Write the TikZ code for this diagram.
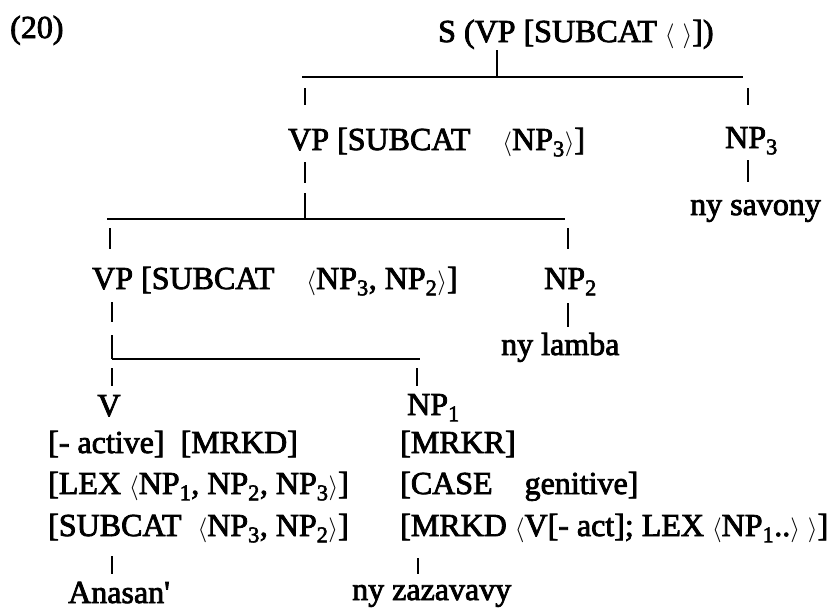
\documentclass[tikz,border=0pt]{standalone}
\usepackage{fontspec}
\setmainfont[FakeBold=2.5]{Liberation Serif}
\newcommand{\la}{$\langle$}
\newcommand{\ra}{$\rangle$}
\newcommand{\sub}[1]{\textsubscript{#1}}
\begin{document}
\begin{tikzpicture}[x=1pt,y=-1pt,
  lbl/.style={inner sep=0pt, anchor=base west, font=\fontsize{32}{40}\selectfont},
  bar/.style={line width=2.8pt},
  tick/.style={line width=2.4pt}]
\useasboundingbox (0,0) rectangle (838,611);
\fill[white] (0,0) rectangle (838,611);
% labels
\node[lbl] (ex) at (10,38) {(20)};
\node[lbl] (S) at (438,42) {S (VP [SUBCAT \la\ \ra])};
\node[lbl] (VPa) at (288,150) {VP [SUBCAT\quad\la NP\sub{3}\ra]};
\node[lbl] (NPc) at (725,148) {NP\sub{3}};
\node[lbl] (sav) at (690,215) {ny savony};
\node[lbl] (VPb) at (92,289) {VP [SUBCAT\quad\la NP\sub{3}, NP\sub{2}\ra]};
\node[lbl] (NPb) at (544,289) {NP\sub{2}};
\node[lbl] (lam) at (501,355) {ny lamba};
\node[lbl, anchor=base] (V) at (109,416) {V};
\node[lbl] (NPa) at (407,415) {NP\sub{1}};
\node[lbl] (v1) at (48,453) {[- active]\enspace [MRKD]};
\node[lbl] (v2) at (48,494) {[LEX \la NP\sub{1}, NP\sub{2}, NP\sub{3}\ra]};
\node[lbl] (v3) at (48,536) {[SUBCAT\enspace\la NP\sub{3}, NP\sub{2}\ra]};
\node[lbl] (n1) at (400,453) {[MRKR]};
\node[lbl] (n2) at (400,494) {[CASE\quad genitive]};
\node[lbl] (n3) at (400,536) {[MRKD \la V[- act]; LEX \la NP\sub{1}..\ra\ \ra]};
\node[lbl] (ana) at (68,603) {Anasan\textquotesingle};
\node[lbl] (zaz) at (352,600) {ny zazavavy};
% branch points
\coordinate (b1) at (497,77);
\coordinate (b1l) at (302,77);
\coordinate (b1r) at (743,77);
\coordinate (b2) at (305,219);
\coordinate (b2l) at (107,219);
\coordinate (b2r) at (565,219);
\coordinate (b3) at (112,359);
\coordinate (b3r) at (420,359);
% top level
\draw[tick] (497,50) -- (b1);
\draw[bar] (b1l) -- (b1r);
\draw[tick] (305,88) -- (305,105);
\draw[tick] (748,88) -- (748,105);
% second level
\draw[tick] (305,162) -- (305,183);
\draw[tick] (305,193) -- (b2);
\draw[tick] (748,160) -- (748,182);
\draw[bar] (b2l) -- (b2r);
\draw[tick] (110,228) -- (110,249);
\draw[tick] (568,228) -- (568,249);
% third level
\draw[tick] (112,302) -- (112,322);
\draw[tick] (112,335) -- (b3);
\draw[tick] (568,303) -- (568,327);
\draw[bar] (b3) -- (b3r);
\draw[tick] (112,368) -- (112,386);
\draw[tick] (417,368) -- (417,386);
% leaves
\draw[tick] (112,556) -- (112,574);
\draw[tick] (418,558) -- (418,574);
\end{tikzpicture}
\end{document}
